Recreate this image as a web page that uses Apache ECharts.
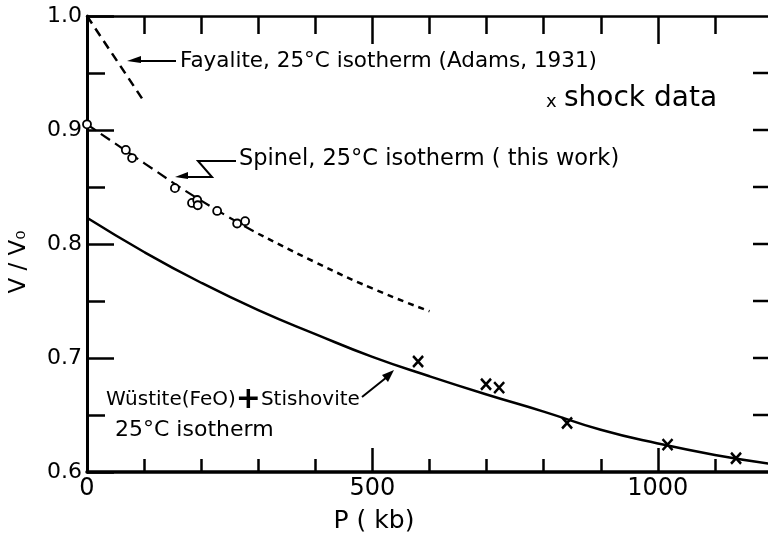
<!DOCTYPE html>
<html>
<head>
<meta charset="utf-8">
<script src="https://cdn.jsdelivr.net/npm/echarts@6/dist/echarts.min.js"></script>
<style>
html, body { margin: 0; padding: 0; background: #fff; }
#main { width: 768px; height: 533px; }
</style>
</head>
<body>
<div id="main"></div>
<script>
// Fayalite, 25C isotherm (Adams, 1931)
var fayaliteP = [0, 100];
var fayaliteV = [1.0, 0.925];

// Spinel, 25C isotherm (this work) - fitted curve
var spinelP = [0, 100, 200, 300, 400, 500, 600];
var spinelV = [0.905, 0.871, 0.838, 0.809, 0.784, 0.761, 0.741];

// spinel measurements (open circles)
var spinelObsP = [0, 68, 79, 154, 184, 193, 194, 228, 263, 277];
var spinelObsV = [0.905, 0.8825, 0.8754, 0.849, 0.836, 0.8386, 0.834, 0.829, 0.818, 0.820];

// Wustite(FeO) + Stishovite, 25C isotherm
var wustiteP = [0, 100, 200, 300, 400, 500, 600, 700, 800, 900, 1000, 1100, 1200];
var wustiteV = [0.823, 0.793, 0.766, 0.742, 0.721, 0.701, 0.684, 0.668, 0.653, 0.637, 0.625, 0.615, 0.607];

// shock data (crosses)
var shockP = [580, 699, 722, 841, 1017, 1137];
var shockV = [0.697, 0.677, 0.674, 0.643, 0.624, 0.612];

// tick labels
var xTickLabels = [0, 500, 1000];
var yTickLabels = [0.6, 0.7, 0.8, 0.9, 1.0];
// ticks on the right-hand frame
var rightTicks = [0.65, 0.7, 0.75, 0.8, 0.85, 0.9, 0.95];

var FONT = '"DejaVu Sans", sans-serif';

function pairs(xs, ys) {
    var out = [];
    for (var i = 0; i < xs.length; i++) out.push([xs[i], ys[i]]);
    return out;
}

var chart = echarts.init(document.getElementById('main'));

var baseX = {
    type: 'value', min: 0, max: 1200,
    splitLine: { show: false },
    axisLabel: { show: false },
    axisLine: { show: false, onZero: false },
    axisTick: { show: true, inside: true, lineStyle: { color: '#000', width: 2.5 } }
};

var option = {
    animation: false,
    backgroundColor: '#fff',
    grid: { left: 87, top: 16, right: -4, bottom: 61, outerBoundsMode: 'none' },
    xAxis: [
        // bottom, 100 kb ticks
        echarts.util.merge({
            position: 'bottom', interval: 100,
            axisLine: { show: true, lineStyle: { color: '#000', width: 3.5 } },
            axisTick: { length: 13 }
        }, baseX, false),
        // bottom, 500 kb ticks + labels
        echarts.util.merge({
            position: 'bottom', interval: 500,
            axisTick: { length: 24 },
            axisLabel: {
                show: true, showMaxLabel: false, margin: 5,
                color: '#000', fontFamily: FONT, fontSize: 24,
                formatter: function (v) { return xTickLabels.indexOf(v) >= 0 ? String(v) : ''; }
            }
        }, baseX, false),
        // top, 100 kb ticks
        echarts.util.merge({
            position: 'top', interval: 100,
            axisLine: { show: true, lineStyle: { color: '#000', width: 2.5 } },
            axisTick: { length: 18 }
        }, baseX, false),
        // top, 500 kb ticks
        echarts.util.merge({
            position: 'top', interval: 500,
            axisTick: { length: 28 }
        }, baseX, false)
    ],
    yAxis: [
        {
            type: 'value', position: 'left', min: 0.6, max: 1.0, interval: 0.1,
            splitLine: { show: false },
            axisLine: { show: true, onZero: false, lineStyle: { color: '#000', width: 3 } },
            axisTick: { show: true, inside: true, length: 27, lineStyle: { color: '#000', width: 2.5 } },
            minorTick: { show: true, splitNumber: 2, length: 18, lineStyle: { color: '#000', width: 2.5 } },
            axisLabel: {
                margin: 5, color: '#000', fontFamily: FONT, fontSize: 22,
                formatter: function (v) {
                    var r = Math.round(v * 10) / 10;
                    return yTickLabels.indexOf(r) >= 0 ? r.toFixed(1) : '';
                }
            }
        }
    ],
    series: [
        {
            name: 'Fayalite', type: 'line', showSymbol: false,
            data: pairs(fayaliteP, fayaliteV),
            lineStyle: { color: '#000', width: 2.5, type: [9, 6] }
        },
        {
            name: 'Spinel', type: 'line', smooth: true, showSymbol: false,
            data: pairs(spinelP.slice(0, 4), spinelV.slice(0, 4)),
            lineStyle: { color: '#000', width: 2.2, type: [11, 6] }
        },
        {
            name: 'Spinel (extrapolated)', type: 'line', smooth: true, showSymbol: false,
            data: pairs(spinelP.slice(3), spinelV.slice(3)),
            lineStyle: { color: '#000', width: 2.5, type: [6, 5] }
        },
        {
            name: 'Spinel data', type: 'scatter', z: 5,
            symbol: 'circle', symbolSize: 8,
            data: pairs(spinelObsP, spinelObsV),
            itemStyle: { color: '#fff', borderColor: '#000', borderWidth: 1.8, opacity: 1 }
        },
        {
            name: 'Wustite + Stishovite', type: 'line', smooth: true, showSymbol: false,
            data: pairs(wustiteP, wustiteV),
            lineStyle: { color: '#000', width: 2.5 }
        },
        {
            name: 'shock data', type: 'scatter', z: 5,
            symbol: 'path://M0,0L10,11M10,0L0,11', symbolSize: [10, 11],
            data: pairs(shockP, shockV),
            itemStyle: { color: 'rgba(0,0,0,0)', borderColor: '#000', borderWidth: 2.6, opacity: 1 }
        }
    ]
};

chart.setOption(option);

var graphics = [
    // y axis name
    { type: 'text', x: 19, y: 262, rotation: Math.PI / 2,
      style: { text: 'V / V\u2080', fontFamily: FONT, fontSize: 23, fill: '#000', align: 'center', verticalAlign: 'middle' } },
    // x axis name
    { type: 'text', x: 374, y: 521,
      style: { text: 'P ( kb)', fontFamily: FONT, fontSize: 25, fill: '#000', align: 'center', verticalAlign: 'middle' } },
    // fayalite label + arrow
    { type: 'polyline', shape: { points: [[176, 61], [134, 61]] }, style: { stroke: '#000', lineWidth: 2 } },
    { type: 'polygon', shape: { points: [[127, 61], [141, 56], [141, 63]] }, style: { fill: '#000' } },
    { type: 'text', x: 180, y: 61,
      style: { text: 'Fayalite, 25°C isotherm (Adams, 1931)', fontFamily: FONT, fontSize: 21.5, fill: '#000', verticalAlign: 'middle' } },
    // shock data key
    { type: 'text', x: 546, y: 102,
      style: { text: 'x', fontFamily: FONT, fontSize: 18, fill: '#000', verticalAlign: 'middle' } },
    { type: 'text', x: 564, y: 99,
      style: { text: 'shock data', fontFamily: FONT, fontSize: 28, fill: '#000', verticalAlign: 'middle' } },
    // spinel label + zigzag arrow
    { type: 'polyline', shape: { points: [[236, 161], [198, 161], [212, 177], [182, 177]] }, style: { stroke: '#000', lineWidth: 2 } },
    { type: 'polygon', shape: { points: [[175, 177], [188, 172], [188, 179]] }, style: { fill: '#000' } },
    { type: 'text', x: 239, y: 159,
      style: { text: 'Spinel, 25°C isotherm ( this work)', fontFamily: FONT, fontSize: 22.5, fill: '#000', verticalAlign: 'middle' } },
    // wustite label + arrow
    { type: 'text', x: 106, y: 400,
      style: {
          text: 'W\u00fcstite(FeO){p|+}Stishovite',
          fontFamily: FONT, fontSize: 20, fill: '#000', verticalAlign: 'middle',
          rich: { p: { fontFamily: FONT, fontSize: 30, fontWeight: 'bold', fill: '#000' } }
      } },
    { type: 'text', x: 115, y: 430,
      style: { text: '25°C isotherm', fontFamily: FONT, fontSize: 22, fill: '#000', verticalAlign: 'middle' } },
    { type: 'polyline', shape: { points: [[362, 397], [387, 377]] }, style: { stroke: '#000', lineWidth: 2 } },
    { type: 'polygon', shape: { points: [[394, 370], [382, 375], [388, 382]] }, style: { fill: '#000' } }
];

// right frame ticks, placed through the y scale
rightTicks.forEach(function (v) {
    var y = chart.convertToPixel({ yAxisIndex: 0 }, v);
    graphics.push({ type: 'line', shape: { x1: 753, y1: y, x2: 768, y2: y }, style: { stroke: '#000', lineWidth: 2.5 } });
});

chart.setOption({ graphic: graphics });
</script>
</body>
</html>
